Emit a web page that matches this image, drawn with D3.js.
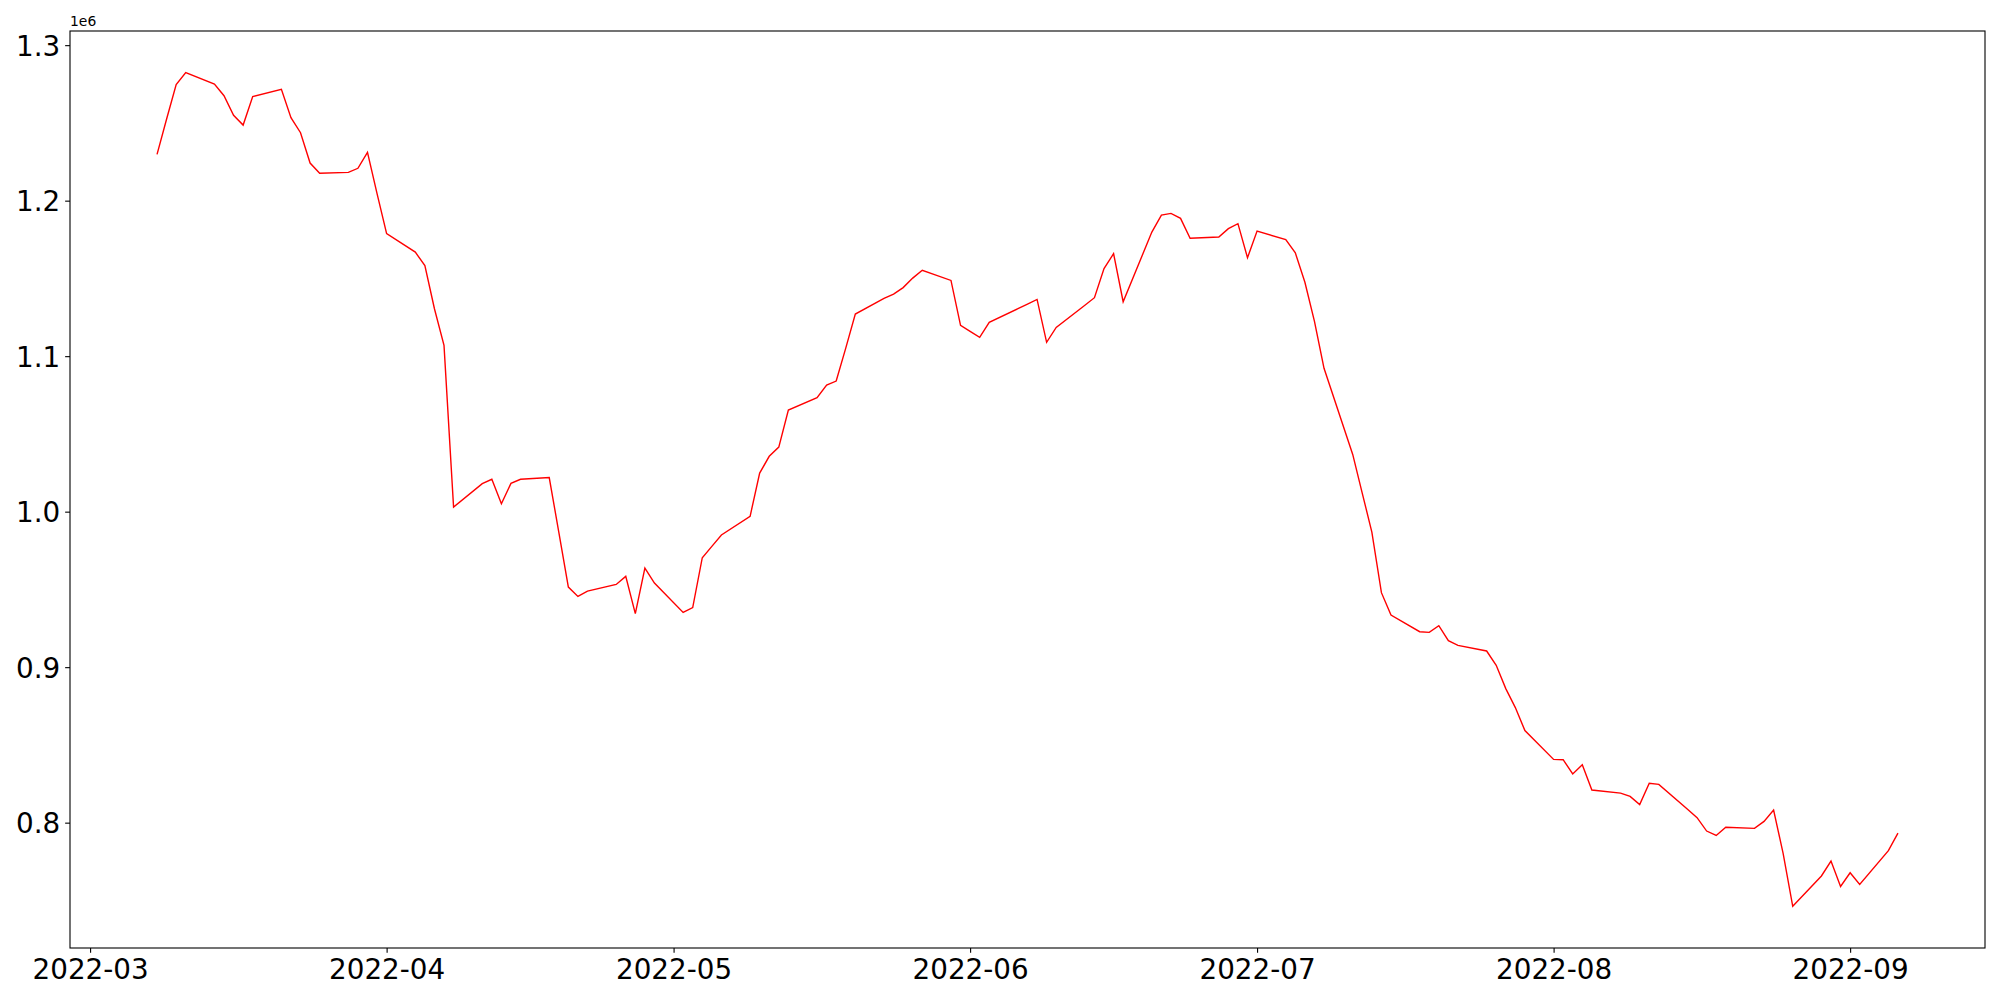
<!DOCTYPE html>
<html>
<head>
<meta charset="utf-8">
<script src="https://cdn.jsdelivr.net/npm/d3@7"></script>
<style>
  html, body { margin: 0; padding: 0; background: #fff; }
  svg { display: block; }
  text { font-family: "DejaVu Sans", sans-serif; fill: #000; }
</style>
</head>
<body>
<svg id="chart" width="2000" height="1000"></svg>
<script>
const dates = [
  "2022-03-08","2022-03-09","2022-03-10","2022-03-11","2022-03-14","2022-03-15","2022-03-16","2022-03-17","2022-03-18",
  "2022-03-21","2022-03-22","2022-03-23","2022-03-24","2022-03-25","2022-03-28","2022-03-29","2022-03-30","2022-03-31",
  "2022-04-01","2022-04-04","2022-04-05","2022-04-06","2022-04-07","2022-04-08","2022-04-11","2022-04-12","2022-04-13",
  "2022-04-14","2022-04-15","2022-04-18","2022-04-19","2022-04-20","2022-04-21","2022-04-22","2022-04-25","2022-04-26",
  "2022-04-27","2022-04-28","2022-04-29",
  "2022-05-02","2022-05-03","2022-05-04","2022-05-05","2022-05-06","2022-05-09","2022-05-10","2022-05-11","2022-05-12",
  "2022-05-13","2022-05-16","2022-05-17","2022-05-18","2022-05-19","2022-05-20","2022-05-23","2022-05-24","2022-05-25",
  "2022-05-26","2022-05-27","2022-05-30","2022-05-31",
  "2022-06-01","2022-06-02","2022-06-03","2022-06-06","2022-06-07","2022-06-08","2022-06-09","2022-06-10","2022-06-13",
  "2022-06-14","2022-06-15","2022-06-16","2022-06-17","2022-06-20","2022-06-21","2022-06-22","2022-06-23","2022-06-24",
  "2022-06-27","2022-06-28","2022-06-29","2022-06-30",
  "2022-07-01","2022-07-04","2022-07-05","2022-07-06","2022-07-07","2022-07-08","2022-07-11","2022-07-12","2022-07-13",
  "2022-07-14","2022-07-15","2022-07-18","2022-07-19","2022-07-20","2022-07-21","2022-07-22","2022-07-25","2022-07-26",
  "2022-07-27","2022-07-28","2022-07-29",
  "2022-08-01","2022-08-02","2022-08-03","2022-08-04","2022-08-05","2022-08-08","2022-08-09","2022-08-10","2022-08-11",
  "2022-08-12","2022-08-15","2022-08-16","2022-08-17","2022-08-18","2022-08-19","2022-08-22","2022-08-23","2022-08-24",
  "2022-08-25","2022-08-26","2022-08-29","2022-08-30","2022-08-31",
  "2022-09-01","2022-09-02","2022-09-05","2022-09-06"
];

const values = [
  1229800,1252500,1274600,1282300,1275000,1267500,1254900,1248600,1266900,
  1271600,1253400,1243700,1224200,1217600,1218200,1220800,1231100,1204500,
  1178800,1166900,1158200,1130500,1106900,1003000,1018000,1020800,1005100,
  1018200,1020800,1021900,986900,951500,945500,948900,953200,958400,
  934400,963700,954100,
  935200,938300,970400,977700,985000,997000,1024800,1035600,1041500,
  1065300,1073300,1081400,1084000,1105200,1127100,1137200,1139900,1144100,
  1150200,1155200,1148700,1119800,
  1115900,1112100,1121700,1130500,1133500,1136500,1108900,1118500,1132700,
  1137600,1156300,1165900,1135000,1179800,1190700,1191800,1188600,1175800,
  1176600,1182000,1185200,1163300,
  1180400,1174900,1166400,1147500,1122400,1092200,1036800,1011800,986900,
  947900,933500,922800,922400,926700,917000,914000,910400,901200,
  886200,874000,859200,
  840700,840500,831300,837300,821000,819000,816900,811600,825300,
  824600,808600,803200,794600,791800,797000,796300,800800,808100,
  780100,746200,765700,775300,759000,
  767800,760300,782000,793300
];

const xTickLabels = ["2022-03","2022-04","2022-05","2022-06","2022-07","2022-08","2022-09"];
const yTickValues = [800000, 900000, 1000000, 1100000, 1200000, 1300000];
const offsetLabel = "1e6";

(function () {
  const parse = d3.timeParse("%Y-%m-%d");
  const parseMonth = d3.timeParse("%Y-%m");
  const data = dates.map((d, i) => ({ date: parse(d), value: values[i] }));

  const mLeft = 70, mRight = 1985, mTop = 31, mBottom = 948;
  const svg = d3.select("#chart");

  const xExt = d3.extent(data, d => d.date);
  const xSpan = xExt[1] - xExt[0];
  const x = d3.scaleTime()
    .domain([new Date(+xExt[0] - 0.05 * xSpan), new Date(+xExt[1] + 0.05 * xSpan)])
    .range([mLeft, mRight]);

  const yExt = d3.extent(values);
  const ySpan = yExt[1] - yExt[0];
  const y = d3.scaleLinear()
    .domain([yExt[0] - 0.05 * ySpan, yExt[1] + 0.05 * ySpan])
    .range([mBottom, mTop]);

  const tickLen = 4.86, tickPad = 4.86, fontSize = 27.8;

  const line = d3.line().x(d => x(d.date)).y(d => y(d.value));
  svg.append("path")
    .datum(data)
    .attr("d", line)
    .attr("fill", "none")
    .attr("stroke", "#ff0000")
    .attr("stroke-width", 1.4)
    .attr("stroke-linejoin", "miter");

  const xAxis = d3.axisBottom(x)
    .tickValues(xTickLabels.map(parseMonth))
    .tickFormat(d3.timeFormat("%Y-%m"))
    .tickSize(tickLen)
    .tickPadding(tickPad);
  const gx = svg.append("g").attr("transform", `translate(0,${mBottom})`).call(xAxis);
  gx.select(".domain").remove();
  gx.selectAll(".tick line").attr("stroke", "#000").attr("stroke-width", 1.1);
  gx.selectAll(".tick text")
    .attr("font-size", fontSize)
    .attr("font-family", "DejaVu Sans")
    .attr("dy", "0.76em")
    .attr("y", tickLen + tickPad);

  const yAxis = d3.axisLeft(y)
    .tickValues(yTickValues)
    .tickFormat(v => (v / 1e6).toFixed(1))
    .tickSize(tickLen)
    .tickPadding(tickPad);
  const gy = svg.append("g").attr("transform", `translate(${mLeft},0)`).call(yAxis);
  gy.select(".domain").remove();
  gy.selectAll(".tick line").attr("stroke", "#000").attr("stroke-width", 1.1);
  gy.selectAll(".tick text")
    .attr("font-size", fontSize)
    .attr("font-family", "DejaVu Sans")
    .attr("dy", "0.36em");

  svg.append("rect")
    .attr("x", mLeft).attr("y", mTop)
    .attr("width", mRight - mLeft).attr("height", mBottom - mTop)
    .attr("fill", "none")
    .attr("stroke", "#000")
    .attr("stroke-width", 1.1);

  svg.append("text")
    .attr("x", mLeft)
    .attr("y", mTop - 5)
    .attr("font-size", 13.9)
    .text(offsetLabel);
})();
</script>
</body>
</html>
